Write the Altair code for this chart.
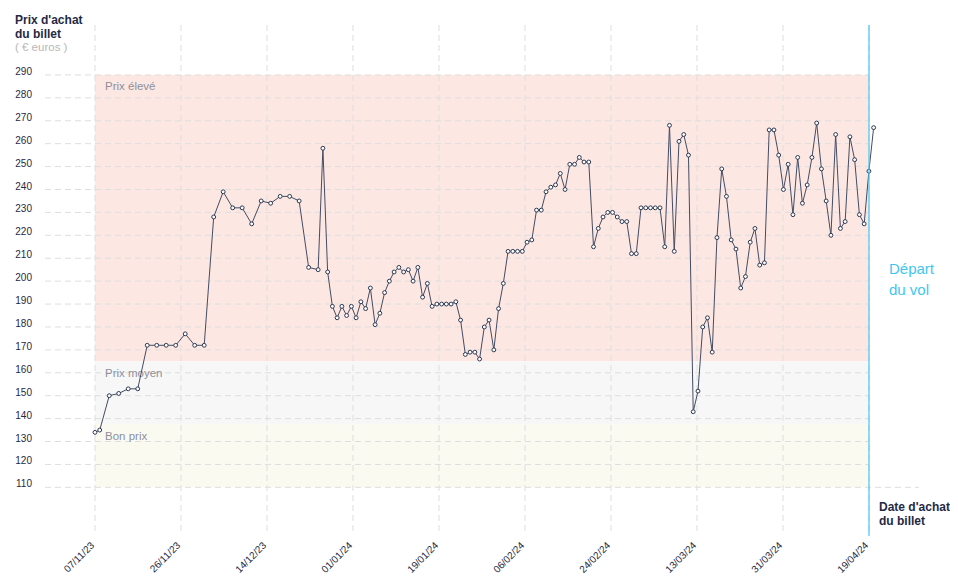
import altair as alt
import pandas as pd

# ---------------- data ----------------
days = [0, 1, 3, 5, 7, 9, 11, 13, 15, 17, 19, 21, 23, 25, 27, 29, 31, 33, 35, 37, 39, 41, 43, 45,
        47, 48, 49, 50, 51, 52, 53, 54, 55, 56, 57, 58, 59, 60, 61, 62, 63, 64, 65, 66, 67, 68, 69,
        70, 71, 72, 73, 74, 75, 76, 77, 78, 79, 80, 81, 82, 83, 84, 85, 86, 87, 88, 89, 90, 91, 92,
        93, 94, 95, 96, 97, 98, 99, 100, 101, 102, 103, 104, 105, 106, 107, 108, 109, 110, 111, 112,
        113, 114, 115, 116, 117, 118, 119, 120, 121, 122, 123, 124, 125, 126, 127, 128, 129, 130,
        131, 132, 133, 134, 135, 136, 137, 138, 139, 140, 141, 142, 143, 144, 145, 146, 147, 148,
        149, 150, 151, 152, 153, 154, 155, 156, 157, 158, 159, 160, 161, 162, 163, 164]
prices = [134, 135, 150, 151, 153, 153, 172, 172, 172, 172, 177, 172, 172, 228, 239, 232, 232, 225,
          235, 234, 237, 237, 235, 206,
          205, 258, 204, 189, 184, 189, 185, 189, 184, 191, 188, 197, 181, 186, 195, 200, 204, 206,
          204, 205, 200, 206, 193, 199, 189, 190, 190, 190, 190, 191, 183, 168, 169, 169, 166, 180,
          183, 170, 188, 199, 213, 213, 213, 213, 217, 218, 231, 231, 239, 241, 242, 247, 240, 251,
          251, 254, 252, 252, 215, 223, 228, 230, 230, 228, 226, 226, 212, 212, 232, 232, 232, 232,
          232, 215, 268, 213, 261, 264, 255, 143, 152, 180, 184, 169, 219, 249, 237, 218, 214, 197,
          202, 217, 223, 207, 208, 266, 266, 255, 240, 251, 229, 254, 234, 242, 254, 269, 249, 235,
          220, 264, 223, 226, 263, 253, 229, 225, 248, 267]
tick_labels = ["07/11/23", "26/11/23", "14/12/23", "01/01/24", "19/01/24",
               "06/02/24", "24/02/24", "13/03/24", "31/03/24", "19/04/24"]
y_ticks = [110, 120, 130, 140, 150, 160, 170, 180, 190, 200, 210, 220, 230, 240, 250,
           260, 270, 280, 290]
band_names = ["Prix élevé", "Prix moyen", "Bon prix"]
band_low = [165, 137.5, 110]
band_high = [290, 165, 137.5]
band_colors = ["#fde7e2", "#f7f7f7", "#fafaf0"]

# ---------------- layout ----------------
X_MIN, X_END = -10.53, 163.02
Y_MIN, Y_MAX = 89.2, 311.8
W, H = 824, 510
NAVY = "#1f2a45"
FONT = "Liberation Sans"
GRID = "#dedede"

df = pd.DataFrame({"day": days, "price": prices})
bands = pd.DataFrame({"name": band_names, "low": band_low, "high": band_high,
                      "color": band_colors, "start": 0.0, "end": X_END})
xt = pd.DataFrame({"x": [k * X_END / (len(tick_labels) - 1) for k in range(len(tick_labels))],
                   "label": tick_labels})
yt = pd.DataFrame({"y": y_ticks, "label": [str(v) for v in y_ticks]})

xscale = alt.Scale(domain=[X_MIN, X_END], nice=False, zero=False)
yscale = alt.Scale(domain=[Y_MIN, Y_MAX], nice=False, zero=False)


def X(field):
    return alt.X(field, scale=xscale, axis=None)


def Y(field):
    return alt.Y(field, scale=yscale, axis=None)


band_rect = alt.Chart(bands).mark_rect().encode(
    x=X("start:Q"), x2="end:Q", y=Y("low:Q"), y2="high:Q",
    color=alt.Color("color:N", scale=None),
)

hgrid = alt.Chart(yt[yt.y > 110]).mark_rule(color=GRID, strokeDash=[6, 4], strokeWidth=1).encode(
    y=Y("y:Q"), x=alt.value(0), x2=alt.value(W))
hbase = alt.Chart(yt[yt.y == 110]).mark_rule(color=GRID, strokeDash=[6, 4], strokeWidth=1).encode(
    y=Y("y:Q"), x=alt.value(0), x2=alt.value(874))
vgrid = alt.Chart(xt).mark_rule(color=GRID, strokeDash=[6, 4], strokeWidth=1).encode(
    x=X("x:Q"), y=alt.value(0), y2=alt.value(H))

ylabels = alt.Chart(yt).mark_text(align="right", baseline="alphabetic", fontSize=10,
                                  color=NAVY, font=FONT).encode(
    y=Y("y:Q"), x=alt.value(-13), text="label:N")
xlabels = alt.Chart(xt).mark_text(align="right", baseline="alphabetic", angle=315, fontSize=10,
                                  color=NAVY, font=FONT).encode(
    x=X("x:Q"), y=alt.value(H + 11), text="label:N")

band_text = alt.Chart(bands).mark_text(align="left", baseline="alphabetic", dx=10, dy=15.5,
                                       fontSize=11.5, color="#8d909b", font=FONT).encode(
    x=X("start:Q"), y=Y("high:Q"), text="name:N")

line = alt.Chart(df).mark_line(color="#434c64", strokeWidth=1).encode(
    x=X("day:Q"), y=Y("price:Q"))
pts = alt.Chart(df).mark_circle(fill="white", stroke="#2c3852", strokeWidth=1, size=15,
                                opacity=1).encode(
    x=X("day:Q"), y=Y("price:Q"))

depart = alt.Chart(pd.DataFrame({"x": [X_END]})).mark_rule(color="#45c8f0", strokeWidth=1.2).encode(
    x=X("x:Q"), y=alt.value(0), y2=alt.value(H + 1))


def label(text, x, y, size=12, weight="normal", color=NAVY):
    return alt.Chart(alt.Data(values=[{}])).mark_text(
        text=text, align="left", baseline="alphabetic", fontSize=size, fontWeight=weight,
        color=color, font=FONT).encode(x=alt.value(x), y=alt.value(y))


texts = [
    label("Prix d'achat", -30, -1.5, 12, "bold"),
    label("du billet", -30, 13, 12, "bold"),
    label("( € euros )", -30, 25.5, 11.5, "normal", "#b8b8b8"),
    label("Départ", 844, 249, 15, "normal", "#3fc6f0"),
    label("du vol", 844, 270, 15, "normal", "#3fc6f0"),
    label("Date d'achat", 834, 485.7, 12, "bold"),
    label("du billet", 834, 500, 12, "bold"),
]

chart = alt.layer(band_rect, hgrid, hbase, vgrid, ylabels, xlabels, band_text, line, pts, depart,
                  *texts).properties(
    width=W, height=H,
    autosize=alt.AutoSizeParams(type="none"),
    padding={"left": 37, "top": 17, "right": 81, "bottom": 43},
).configure(font=FONT).configure_view(stroke=None)

chart.save("out.html", embed_options={"renderer": "svg", "actions": False})
